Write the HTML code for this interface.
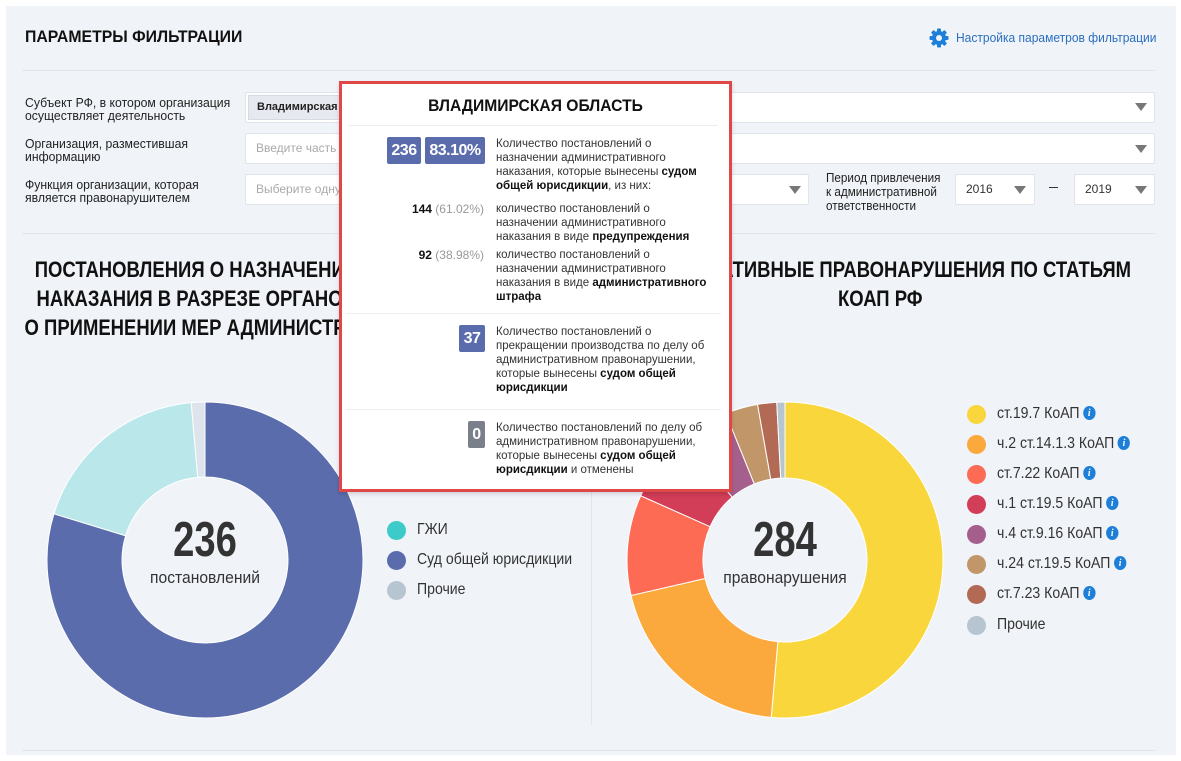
<!DOCTYPE html>
<html><head><meta charset="utf-8">
<style>
*{box-sizing:border-box;margin:0;padding:0}
body{width:1181px;height:761px;background:#fff;position:relative;overflow:hidden;font-family:"Liberation Sans","Noto Sans CJK SC",sans-serif;color:#222}
.panel{position:absolute;left:6px;top:6px;width:1170px;height:749px;background:#f0f3f8}
.a{position:absolute}
.hr{position:absolute;height:1px;background:#e1e5ec}
.lbl{position:absolute;font-size:13px;line-height:13px;color:#222;white-space:nowrap;transform:scaleX(.94);transform-origin:left top}
.fld{position:absolute;background:#fff;border:1px solid #dfe3ea;border-radius:2px;height:31px;font-size:12px;color:#aaa;padding-left:10px;line-height:29px;white-space:nowrap;overflow:hidden}
.tri{position:absolute;width:0;height:0;border-left:6px solid transparent;border-right:6px solid transparent;border-top:8px solid #777}
.title{position:absolute;font-weight:bold;font-size:22px;line-height:29px;text-align:center;color:#111;white-space:nowrap;transform:scaleX(.84)}
.leg{position:absolute;font-size:16px;color:#333;white-space:nowrap;transform:scaleX(.88);transform-origin:left top}
.dot{position:absolute;width:19px;height:19px;border-radius:50%}
.info{display:inline-block;width:14px;height:14px;border-radius:50%;background:#1e7fd8;color:#fff;font-size:11px;line-height:14px;text-align:center;font-style:italic;font-weight:bold;font-family:"Liberation Serif",serif;vertical-align:2px;margin-left:4px}
.tip{position:absolute;left:339px;top:81px;width:393px;height:411px;background:#fff;border:3px solid #e04848;box-shadow:0 2px 4px rgba(0,0,0,.15)}
.tt{font-size:11.5px;line-height:14px;color:#333;position:absolute;left:154px;white-space:nowrap}
.tt b{color:#111}
.badge{position:absolute;background:#5b6cad;color:#fff;font-weight:bold;font-size:16px;height:27px;line-height:27px;text-align:center;border-radius:2px;letter-spacing:-.5px}
.num{position:absolute;right:245px;font-size:12px;color:#999;white-space:nowrap}
.num b{color:#111}
.big{position:absolute;width:160px;text-align:center;font-size:49px;line-height:50px;font-weight:bold;color:#333;transform:scaleX(.78)}
</style></head><body>
<div class="panel"></div>
<div class="a" style="left:25px;top:27px;font-size:17px;font-weight:bold;color:#111;transform:scaleX(.93);transform-origin:left">ПАРАМЕТРЫ ФИЛЬТРАЦИИ</div>
<svg class="a" style="left:929px;top:28px" width="20" height="20" viewBox="0 0 20 20"><g fill="#1e7fd8"><circle cx="10" cy="10" r="7"/><rect x="8" y="0.5" width="4" height="19" rx="1"/><rect x="8" y="0.5" width="4" height="19" rx="1" transform="rotate(45 10 10)"/><rect x="8" y="0.5" width="4" height="19" rx="1" transform="rotate(90 10 10)"/><rect x="8" y="0.5" width="4" height="19" rx="1" transform="rotate(135 10 10)"/></g><circle cx="10" cy="10" r="3" fill="#f0f3f8"/></svg>
<div class="a" style="left:956px;top:30px;font-size:13px;color:#2a6fbf;white-space:nowrap;transform:scaleX(.925);transform-origin:left">Настройка параметров фильтрации</div>
<div class="hr" style="left:22px;top:70px;width:1133px"></div>
<div class="lbl" style="left:25px;top:96px">Субъект РФ, в котором организация<br>осуществляет деятельность</div>
<div class="fld" style="left:245px;top:92px;width:910px"></div>
<div class="a" style="left:248px;top:95px;width:100px;height:25px;background:#e6e9ef;border:1px solid #d6dae2;font-weight:bold;font-size:11px;line-height:23px;padding-left:8px;color:#222;white-space:nowrap;overflow:hidden">Владимирская о</div>
<div class="tri" style="left:1135px;top:103px"></div>
<div class="lbl" style="left:25px;top:137px">Организация, разместившая<br>информацию</div>
<div class="fld" style="left:245px;top:133px;width:910px">Введите часть</div>
<div class="tri" style="left:1135px;top:145px"></div>
<div class="lbl" style="left:25px;top:178px">Функция организации, которая<br>является правонарушителем</div>
<div class="fld" style="left:245px;top:174px;width:564px">Выберите одну</div>
<div class="tri" style="left:789px;top:186px"></div>
<div class="lbl" style="left:826px;top:171px;line-height:14px;transform:scaleX(.9)">Период привлечения<br>к административной<br>ответственности</div>
<div class="fld" style="left:955px;top:174px;width:80px;color:#333">2016</div>
<div class="tri" style="left:1014px;top:186px"></div>
<div class="a" style="left:1049px;top:187px;width:9px;height:1px;background:#333"></div>
<div class="fld" style="left:1074px;top:174px;width:81px;color:#333">2019</div>
<div class="tri" style="left:1135px;top:186px"></div>
<div class="hr" style="left:22px;top:233px;width:1133px"></div>

<div class="title" style="left:-51px;top:255px;width:720px">ПОСТАНОВЛЕНИЯ О НАЗНАЧЕНИИ АДМИНИСТРАТИВНОГО<br>НАКАЗАНИЯ В РАЗРЕЗЕ ОРГАНОВ, ВЫНЕСШИХ РЕШЕНИЯ<br>О ПРИМЕНЕНИИ МЕР АДМИНИСТРАТИВНОГО ВОЗДЕЙСТВИЯ</div>
<div class="title" style="left:0px;top:255px;width:1131px;text-align:right;transform-origin:right top">АДМИНИСТРАТИВНЫЕ ПРАВОНАРУШЕНИЯ ПО СТАТЬЯМ</div>
<div class="title" style="left:830px;top:284px;width:100px">КОАП РФ</div>

<svg class="a" style="left:0;top:0" width="1181" height="761" id="sv"></svg>
<div class="a" style="left:591px;top:400px;width:1px;height:325px;background:#e1e5ec"></div>
<div class="hr" style="left:22px;top:750px;width:1133px"></div>

<div class="big" style="left:125px;top:515px">236</div>
<div class="a" style="left:125px;top:568px;width:160px;text-align:center;font-size:17px;color:#333;transform:scaleX(.92)">постановлений</div>
<div class="big" style="left:705px;top:515px">284</div>
<div class="a" style="left:705px;top:568px;width:160px;text-align:center;font-size:17px;color:#333;transform:scaleX(.92)">правонарушения</div>

<div class="dot" style="left:387px;top:521px;background:#3ccbc9"></div><div class="leg" style="left:417px;top:521px">ГЖИ</div>
<div class="dot" style="left:387px;top:551px;background:#5b6cad"></div><div class="leg" style="left:417px;top:551px">Суд общей юрисдикции</div>
<div class="dot" style="left:387px;top:581px;background:#b6c5d0"></div><div class="leg" style="left:417px;top:581px">Прочие</div>

<div class="dot" style="left:967px;top:405px;background:#f8d63c"></div><div class="leg" style="left:997px;top:405px">ст.19.7 КоАП<span class="info">i</span></div>
<div class="dot" style="left:967px;top:435px;background:#fba83c"></div><div class="leg" style="left:997px;top:435px">ч.2 ст.14.1.3 КоАП<span class="info">i</span></div>
<div class="dot" style="left:967px;top:465px;background:#fd6b55"></div><div class="leg" style="left:997px;top:465px">ст.7.22 КоАП<span class="info">i</span></div>
<div class="dot" style="left:967px;top:495px;background:#d23d58"></div><div class="leg" style="left:997px;top:495px">ч.1 ст.19.5 КоАП<span class="info">i</span></div>
<div class="dot" style="left:967px;top:525px;background:#a55f8c"></div><div class="leg" style="left:997px;top:525px">ч.4 ст.9.16 КоАП<span class="info">i</span></div>
<div class="dot" style="left:967px;top:555px;background:#c1976a"></div><div class="leg" style="left:997px;top:555px">ч.24 ст.19.5 КоАП<span class="info">i</span></div>
<div class="dot" style="left:967px;top:585px;background:#b36a55"></div><div class="leg" style="left:997px;top:585px">ст.7.23 КоАП<span class="info">i</span></div>
<div class="dot" style="left:967px;top:616px;background:#b6c5d0"></div><div class="leg" style="left:997px;top:616px">Прочие</div>

<div class="tip">
 <div class="a" style="left:0;top:12px;width:387px;text-align:center;font-size:17px;font-weight:bold;color:#111;transform:scaleX(.92)">ВЛАДИМИРСКАЯ ОБЛАСТЬ</div>
 <div class="hr" style="left:6px;top:41px;width:370px;background:#eee"></div>
 <div class="badge" style="left:45px;top:53px;width:34px">236</div>
 <div class="badge" style="left:83px;top:53px;width:60px">83.10%</div>
 <div class="tt" style="top:53px">Количество постановлений о<br>назначении административного<br>наказания, которые вынесены <b>судом</b><br><b>общей юрисдикции</b>, из них:</div>
 <div class="num" style="top:118px"><b>144</b> (61.02%)</div>
 <div class="tt" style="top:118px">количество постановлений о<br>назначении административного<br>наказания в виде <b>предупреждения</b></div>
 <div class="num" style="top:164px"><b>92</b> (38.98%)</div>
 <div class="tt" style="top:164px">количество постановлений о<br>назначении административного<br>наказания в виде <b>административного</b><br><b>штрафа</b></div>
 <div class="hr" style="left:4px;top:229px;width:375px;background:#eee"></div>
 <div class="badge" style="left:117px;top:241px;width:26px">37</div>
 <div class="tt" style="top:241px">Количество постановлений о<br>прекращении производства по делу об<br>административном правонарушении,<br>которые вынесены <b>судом общей</b><br><b>юрисдикции</b></div>
 <div class="hr" style="left:4px;top:325px;width:375px;background:#eee"></div>
 <div class="badge" style="left:126px;top:337px;width:17px;background:#7a8089">0</div>
 <div class="tt" style="top:337px">Количество постановлений по делу об<br>административном правонарушении,<br>которые вынесены <b>судом общей</b><br><b>юрисдикции</b> и отменены</div>
</div>
<script>
function arc(cx,cy,R,r,a0,a1,c){
 const t=a=>(a-90)*Math.PI/180;
 const p=(rad,a)=>[cx+rad*Math.cos(t(a)),cy+rad*Math.sin(t(a))];
 const L=(a1-a0)>180?1:0;
 const [x1,y1]=p(R,a0),[x2,y2]=p(R,a1),[x3,y3]=p(r,a1),[x4,y4]=p(r,a0);
 return `<path d="M${x1} ${y1}A${R} ${R} 0 ${L} 1 ${x2} ${y2}L${x3} ${y3}A${r} ${r} 0 ${L} 0 ${x4} ${y4}Z" fill="${c}" stroke="#fff" stroke-width="1"/>`;
}
let s='';
[[0,287,'#5b6cad'],[287,355,'#bae8ea'],[355,360,'#dde4ec']].forEach(d=>s+=arc(205,560,158,83,d[0],d[1],d[2]));
[[0,185,'#f8d63c'],[185,257,'#fba83c'],[257,294,'#fd6b55'],[294,320,'#d23d58'],[320,338,'#a55f8c'],[338,350,'#c1976a'],[350,357,'#b36a55'],[357,360,'#b6c5d0']].forEach(d=>s+=arc(785,560,158,82,d[0],d[1],d[2]));
document.getElementById('sv').innerHTML=s;
</script>
</body></html>
